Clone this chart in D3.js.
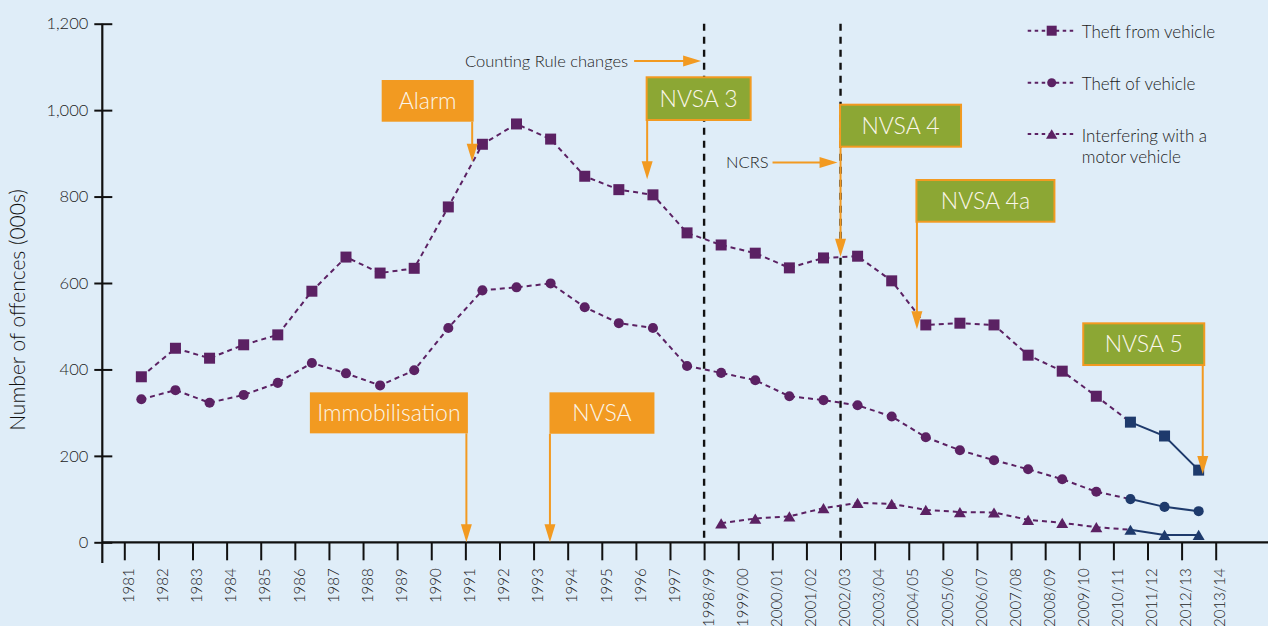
<!DOCTYPE html>
<html><head><meta charset="utf-8">
<script src="https://cdn.jsdelivr.net/npm/d3@7"></script>
<style>
html,body{margin:0;padding:0;background:#dfedf8;}
svg{display:block;font-family:Lato,"Open Sans",sans-serif;}
</style></head><body>
<svg id="chart" width="1268" height="626"></svg>
<script>
// ---------------- data ----------------
const periods = ["1981","1982","1983","1984","1985","1986","1987","1988","1989","1990",
  "1991","1992","1993","1994","1995","1996","1997","1998/99","1999/00","2000/01",
  "2001/02","2002/03","2003/04","2004/05","2005/06","2006/07","2007/08","2008/09",
  "2009/10","2010/11","2011/12","2012/13","2013/14"];
const theftFromVehicle = [383,449,426,457,480,581,660,623,634,776,921,968,933,847,816,804,716,
  688,669,635,658,662,605,503,507,503,433,396,338,278,246,167];
const theftOfVehicle = [331,352,323,341,369,415,391,363,398,496,583,590,599,544,507,496,408,
  392,375,338,329,317,291,243,213,190,169,146,117,100,82,72];
const interferingPeriods = ["1998/99","1999/00","2000/01","2001/02","2002/03","2003/04","2004/05",
  "2005/06","2006/07","2007/08","2008/09","2009/10","2010/11","2011/12","2012/13"];
const interferingValues = [44,55,60,79,91,89,75,70,69,52,45,35,29,17,17];
const yTickValues = [0,200,400,600,800,1000,1200];
const seriesNames = ["Theft from vehicle","Theft of vehicle","Interfering with a|motor vehicle"];
const countingRuleBreaks = ["1998/99","2002/03"];
const navyCount = 3;

// ---------------- setup ----------------
const PURPLE = "#5b2163", NAVY = "#1e3a6c", ORANGE = "#f29a21", GREEN = "#8ca734", TXT = "#1c1c1c";
const svg = d3.select("#chart");
svg.append("rect").attr("width",1268).attr("height",626).attr("fill","#dfedf8");

const x = d3.scalePoint().domain(periods).range([124.3,1215.7]);
const y = d3.scaleLinear().domain([0,1200]).range([542.3,23.7]);
const mid = p => x(p) + x.step()/2;
const AX = 102.3;

// axes
const yAxis = svg.append("g").attr("transform",`translate(${AX},0)`)
  .call(d3.axisLeft(y).tickValues(yTickValues).tickFormat(d3.format(",")).tickSizeInner(8).tickSizeOuter(0).tickPadding(6));
yAxis.attr("font-family",null).attr("font-size",null);
yAxis.select(".domain").remove();
yAxis.selectAll(".tick line").attr("x1",10).attr("x2",-8).attr("stroke","#111").attr("stroke-width",2);
yAxis.selectAll(".tick text").attr("fill",TXT).style("font-size","16.5px").style("font-weight",300);
svg.append("line").attr("x1",AX).attr("x2",AX).attr("y1",y(1200)).attr("y2",563).attr("stroke","#111").attr("stroke-width",2.2);

const xAxis = svg.append("g").attr("transform",`translate(0,${y(0)})`)
  .call(d3.axisBottom(x).tickSizeInner(18).tickSizeOuter(0));
xAxis.attr("font-family",null).attr("font-size",null);
xAxis.select(".domain").remove();
xAxis.selectAll(".tick line").attr("stroke","#111").attr("stroke-width",2);
xAxis.selectAll(".tick text").attr("x",0).attr("y",0).attr("dy","0.35em")
  .attr("transform","translate(4,26) rotate(-90)").style("text-anchor","end")
  .attr("fill",TXT).style("font-size","15px").style("font-weight",300);
svg.append("line").attr("x1",AX).attr("x2",1268).attr("y1",y(0)).attr("y2",y(0)).attr("stroke","#111").attr("stroke-width",2.2);

svg.append("text").attr("transform",`translate(25,${(y(0)+y(1200))/2+27}) rotate(-90)`)
  .attr("text-anchor","middle").attr("fill","#111").style("font-size","21px").style("font-weight",300)
  .text("Number of offences (000s)");

// vertical dashed lines
countingRuleBreaks.forEach(p=>{
  svg.append("line").attr("x1",x(p)).attr("x2",x(p)).attr("y1",y(1200)).attr("y2",y(0))
    .attr("stroke","#111").attr("stroke-width",2.4).attr("stroke-dasharray","7,6");
});

// ---------------- series ----------------
const tri = {draw(ctx,size){const w=Math.sqrt(size)*1.2,h=w*0.85;ctx.moveTo(0,-h/2);ctx.lineTo(w/2,h/2);ctx.lineTo(-w/2,h/2);ctx.closePath();}};
const series = [
  {pts: theftFromVehicle.map((v,i)=>({p:periods[i],v})), sym:d3.symbolSquare, size:121},
  {pts: theftOfVehicle.map((v,i)=>({p:periods[i],v})), sym:d3.symbolCircle, size:80},
  {pts: interferingValues.map((v,i)=>({p:interferingPeriods[i],v})), sym:tri, size:100}
];
const line = d3.line().x(d=>mid(d.p)).y(d=>y(d.v));
series.forEach(s=>{
  const n = s.pts.length;
  svg.append("path").attr("d",line(s.pts.slice(0,n-navyCount+1))).attr("fill","none")
    .attr("stroke",PURPLE).attr("stroke-width",2).attr("stroke-dasharray","5,4");
  svg.append("path").attr("d",line(s.pts.slice(n-navyCount))).attr("fill","none")
    .attr("stroke",NAVY).attr("stroke-width",2);
  svg.selectAll(null).data(s.pts).enter().append("path")
    .attr("transform",d=>`translate(${mid(d.p)},${y(d.v)})`)
    .attr("d",d3.symbol().type(s.sym).size(s.size))
    .attr("fill",(d,i)=> i>=n-navyCount ? NAVY : PURPLE);
});

// ---------------- legend ----------------
const legY = [30.7,82.7,134];
const legSyms = [[d3.symbolSquare,100],[d3.symbolCircle,64],[tri,90]];
seriesNames.forEach((name,i)=>{
  const g = svg.append("g").attr("transform",`translate(1051.7,${legY[i]})`);
  g.append("line").attr("x1",-24).attr("x2",24).attr("stroke",PURPLE).attr("stroke-width",2).attr("stroke-dasharray","3.5,3.5");
  g.append("path").attr("d",d3.symbol().type(legSyms[i][0]).size(legSyms[i][1])).attr("fill",PURPLE);
  name.split("|").forEach((t,j)=>{
    g.append("text").attr("x",30).attr("y",7.6+j*21.7).attr("fill",TXT)
      .style("font-size","17px").style("font-weight",300).text(t);
  });
});

// ---------------- annotations ----------------
const notes = [
  {text:"Alarm", p:"1991", f:0.2, top:1069.7, tip:880.7, w:92, h:41.7, edge:"right", green:false},
  {text:"NVSA 3", p:"1996", f:0.33, top:1076, tip:840, w:104, h:42.7, edge:"left", green:true},
  {text:"NVSA 4", p:"2002/03", f:0.0, top:1012.6, tip:660.8, w:121, h:42, edge:"left", green:true},
  {text:"NVSA 4a", p:"2004/05", f:0.24, top:838.3, tip:492.9, w:138, h:41.7, edge:"left", green:true},
  {text:"NVSA 5", p:"2012/13", f:0.62, top:506.7, tip:158, w:121, h:41.7, edge:"right", green:true},
  {text:"Immobilisation", p:"1991", f:0.03, top:347, tip:0, w:158, h:41, edge:"right", green:false},
  {text:"NVSA", p:"1993", f:0.48, top:347, tip:0, w:105, h:41.4, edge:"left", green:false}
];
notes.forEach(n=>{
  const ax = x(n.p) + n.f*x.step();
  const bx = n.edge==="right" ? ax - n.w + 1.5 : ax - 0.5;
  const by = y(n.top), ty = y(n.tip);
  svg.append("line").attr("x1",ax).attr("x2",ax).attr("y1",by+n.h).attr("y2",ty-14)
    .attr("stroke",ORANGE).attr("stroke-width",2);
  svg.append("path").attr("d",`M${ax-5.5},${ty-18}L${ax+5.5},${ty-18}L${ax},${ty}Z`).attr("fill",ORANGE);
  svg.append("rect").attr("x",bx).attr("y",by).attr("width",n.w).attr("height",n.h)
    .attr("fill",n.green?GREEN:ORANGE).attr("stroke",n.green?ORANGE:"none").attr("stroke-width",2);
  svg.append("text").attr("x",bx+n.w/2).attr("y",by+n.h/2).attr("dy","0.36em").attr("text-anchor","middle")
    .attr("fill","#fbf6ea").style("font-size","23px").style("font-weight",300).text(n.text);
});

const sideNotes = [
  {text:"Counting Rule changes", p:"1998/99", v:1113.8, len:67, gap:6},
  {text:"NCRS", p:"2002/03", v:879, len:65, gap:4}
];
sideNotes.forEach(n=>{
  const tx = x(n.p) - 3, ty = y(n.v);
  svg.append("line").attr("x1",tx-n.len).attr("x2",tx-14).attr("y1",ty).attr("y2",ty).attr("stroke",ORANGE).attr("stroke-width",2);
  svg.append("path").attr("d",`M${tx-18},${ty-5.5}L${tx-18},${ty+5.5}L${tx},${ty}Z`).attr("fill",ORANGE);
  svg.append("text").attr("x",tx-n.len-n.gap).attr("y",ty).attr("dy","0.35em").attr("text-anchor","end")
    .attr("fill",TXT).style("font-size","16.5px").style("font-weight",300).text(n.text);
});
</script>
</body></html>
